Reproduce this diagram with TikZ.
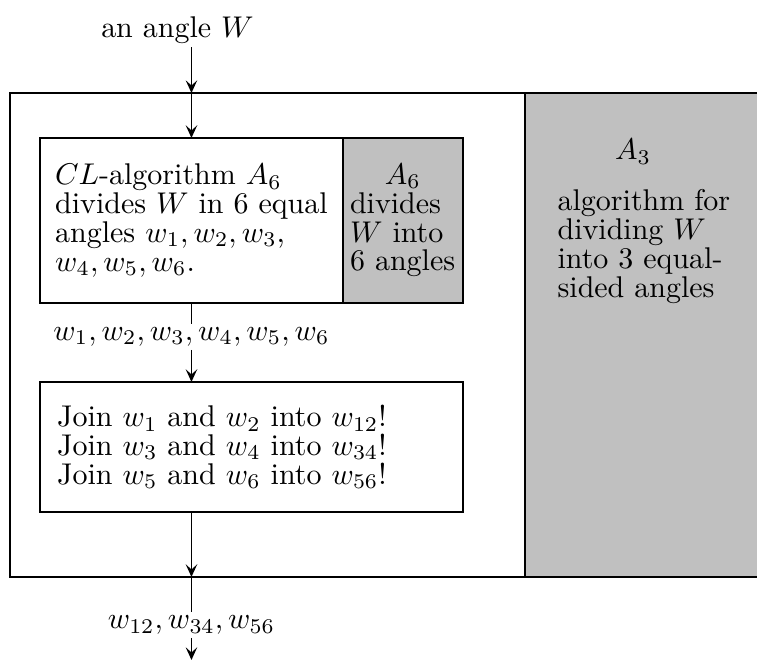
\documentclass[tikz,border=0pt]{standalone}
\usepackage{amsmath}
\usepackage{xcolor}
\usetikzlibrary{positioning, arrows.meta}
\definecolor{boxgray}{HTML}{C0C0C0}

\begin{document}
\begin{tikzpicture}[
  x=1cm,
  y=1cm,
  every node/.style={font=\fontsize{10}{9.6}\selectfont},
  >={Stealth[length=4.2pt, width=3.8pt, inset=1.7pt]},
  algbox/.style={draw, semithick, outer sep=0pt, minimum height=1.934cm},
  graybox/.style={algbox, fill=boxgray},
  flowlabel/.style={inner sep=1pt}
]
  \clip (0,0) rectangle (8.872,7.735);

  % ---- outer frame and the A_3 part -----------------------------------
  \fill[boxgray] (6.153,0.973) rectangle (9.5,6.645);
  \draw[semithick] (0.117,0.973) rectangle (9.5,6.645);
  \draw[semithick] (6.153,0.973) -- (6.153,6.645);

  \node (athree) at (7.419,5.954) {$A_3$};
  \node[anchor=north west, inner sep=0pt, align=left] (athreetext)
    at (6.528,5.520) {algorithm for\\dividing $W$\\into 3 equal-\\sided angles};

  % ---- input and the CL-algorithm A_6 ----------------------------------
  \node[flowlabel] (input) at (2.080,7.384) {an angle $W$};
  \coordinate (outtop) at (2.244,6.645);

  \node[algbox, minimum width=3.551cm, align=left] (divide) at (2.244,5.151)
    {$CL$-algorithm $A_6$\\divides $W$ in 6 equal\\angles $w_1,w_2,w_3$,\\$w_4,w_5,w_6$.};
  \node[graybox, minimum width=1.406cm, text width=1.24cm, inner xsep=0pt,
        right=0pt of divide] (asix)
    {\centering $A_6$\par\raggedright divides\\$W$ into\\6~angles};

  \draw[semithick, ->] (input.south -| outtop) -- (outtop);
  \draw[semithick, ->] (outtop) -- (divide.north);

  % ---- joining the angles ----------------------------------------------
  \node[flowlabel] (sixlist) at (2.244,3.786) {$w_1,w_2,w_3,w_4,w_5,w_6$};

  \node[algbox, minimum width=4.957cm, minimum height=1.523cm,
        text width=4.557cm, inner xsep=0.2cm, align=left] (join) at (2.948,2.497)
    {Join $w_1$ and $w_2$ into $w_{12}$!\\Join $w_3$ and $w_4$ into $w_{34}$!\\Join $w_5$ and $w_6$ into $w_{56}$!};

  \draw[semithick] (divide.south) -- (sixlist);
  \draw[semithick, ->] (sixlist) -- (sixlist |- join.north);

  % ---- output ----------------------------------------------------------
  \coordinate (outbot) at (2.244,0.973);
  \node[flowlabel] (result) at (2.244,0.410) {$w_{12},w_{34},w_{56}$};
  \coordinate (exit) at (2.244,0);

  \draw[semithick, ->] (sixlist |- join.south) -- (outbot);
  \draw[semithick] (outbot) -- (result);
  \draw[semithick, ->] (result) -- (exit);
\end{tikzpicture}
\end{document}
